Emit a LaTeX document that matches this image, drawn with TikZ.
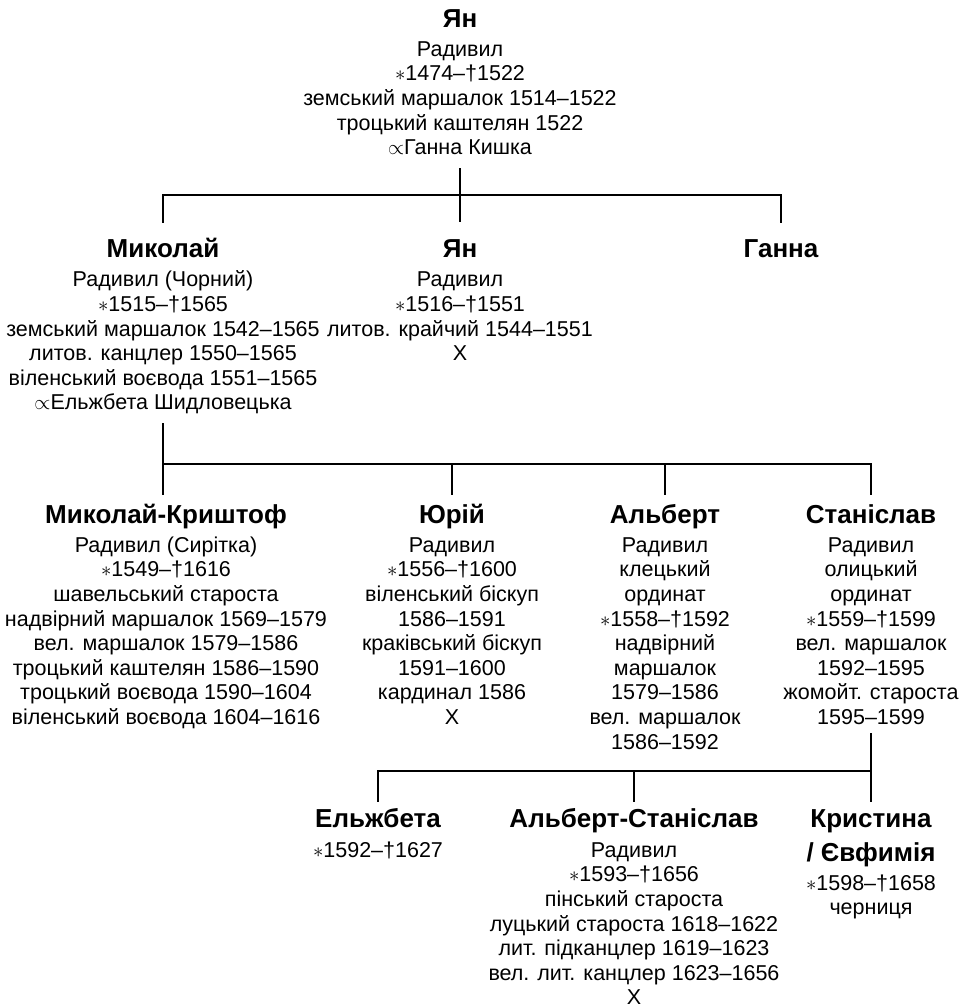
\documentclass[tikz,border=0pt]{standalone}
\usepackage{fontspec}
\setmainfont{Liberation Sans}
\usetikzlibrary{calc}

\newcommand{\pname}[1]{{\fontsize{26}{29}\selectfont\bfseries\rule{0pt}{22pt}#1}}

\begin{document}
\begin{tikzpicture}[x=1pt,y=-1pt,
        person/.style={align=center,inner sep=0pt,anchor=north,
            font=\fontsize{21.5}{24.6}\selectfont},
        tree/.style={line width=2pt,line cap=rect},
        stem/.style={tree,line width=2.8pt}]
        \useasboundingbox (0,0) rectangle (967,1006);

        %% define points
        \def\Ytop{5};
        \def\Ytwo{235};
        \def\Ythree{501};
        \def\Yfour{805};

        \def\Xjan{460};
        \def\Xmik{163};
        \def\Xmkr{166};
        \def\Xganna{781};
        \def\Xyur{452};
        \def\Xalb{665};
        \def\Xstan{871};
        \def\Xelz{378};
        \def\Xalst{634};

        \coordinate (barA) at (0,195);
        \coordinate (barB) at (0,464);
        \coordinate (barC) at (0,771);

        %% first generation
        \node[person] (jan) at (\Xjan,\Ytop) {\pname{Ян}\\[4.5pt]Радивил\\$\ast$1474–†1522\\земський маршалок 1514–1522\\троцький каштелян 1522\\$\propto$Ганна Кишка};

        %% second generation
        \node[person] (mik) at (\Xmik,\Ytwo) {\pname{Миколай}\\[5pt]Радивил (Чорний)\\$\ast$1515–†1565\\земський маршалок 1542–1565\\литов. канцлер 1550–1565\\віленський воєвода 1551–1565\\$\propto$Ельжбета Шидловецька};
        \node[person] (jan2) at (\Xjan,\Ytwo) {\pname{Ян}\\[5pt]Радивил\\$\ast$1516–†1551\\литов. крайчий 1544–1551\\X};
        \node[person] (ganna) at (\Xganna,\Ytwo) {\pname{Ганна}};

        %% third generation
        \node[person] (mkr) at (\Xmkr,\Ythree) {\pname{Миколай-Криштоф}\\[4.5pt]Радивил (Сирітка)\\$\ast$1549–†1616\\шавельський староста\\надвірний маршалок 1569–1579\\вел. маршалок 1579–1586\\троцький каштелян 1586–1590\\троцький воєвода 1590–1604\\віленський воєвода 1604–1616};
        \node[person] (yur) at (\Xyur,\Ythree) {\pname{Юрій}\\[4.5pt]Радивил\\$\ast$1556–†1600\\віленський біскуп\\1586–1591\\краківський біскуп\\1591–1600\\кардинал 1586\\X};
        \node[person] (alb) at (\Xalb,\Ythree) {\pname{Альберт}\\[4.5pt]Радивил\\клецький\\ординат\\$\ast$1558–†1592\\надвірний\\маршалок\\1579–1586\\вел. маршалок\\1586–1592};
        \node[person] (stan) at (\Xstan,\Ythree) {\pname{Станіслав}\\[4.5pt]Радивил\\олицький\\ординат\\$\ast$1559–†1599\\вел. маршалок\\1592–1595\\жомойт. староста\\1595–1599};

        %% fourth generation
        \begin{scope}[every node/.append style={font=\fontsize{21.5}{23.5}\selectfont}]
        \node[person] (elz) at (\Xelz,\Yfour) {\pname{Ельжбета}\\[5.5pt]$\ast$1592–†1627};
        \node[person] (alst) at (\Xalst,\Yfour) {\pname{Альберт-Станіслав}\\[5.5pt]Радивил\\$\ast$1593–†1656\\пінський староста\\луцький староста 1618–1622\\лит. підканцлер 1619–1623\\вел. лит. канцлер 1623–1656\\X};
        \node[person] (kry) at (\Xstan,\Yfour) {\pname{Кристина}\\[5.5pt]\pname{/ Євфимія}\\[4.5pt]$\ast$1598–†1658\\черниця};
        \end{scope}

        %% lines of the first family
        \draw[tree] ([yshift=-14pt]jan.south) -- ([yshift=14pt]jan2.north);
        \draw[tree] ([yshift=13pt]mik.north) -- (mik.north |- barA) -- (ganna.north |- barA) -- ([yshift=13pt]ganna.north);

        %% lines of the second family
        \coordinate (mkrtop) at ([yshift=7pt]mkr.north);
        \draw[stem] ([yshift=-10pt]mik.south) -- (mkrtop -| mik.south);
        \draw[tree] (mik.south |- barB) -- (stan.north |- barB) -- ([yshift=7pt]stan.north);
        \draw[tree] (yur.north |- barB) -- ([yshift=7pt]yur.north);
        \draw[tree] (alb.north |- barB) -- ([yshift=7pt]alb.north);

        %% lines of the third family
        \draw[stem] ([yshift=-9pt]stan.south) -- ([yshift=4pt]kry.north);
        \draw[tree] (kry.north |- barC) -- (elz.north |- barC) -- ([yshift=4pt]elz.north);
        \draw[tree] (alst.north |- barC) -- ([yshift=4pt]alst.north);
\end{tikzpicture}
\end{document}
